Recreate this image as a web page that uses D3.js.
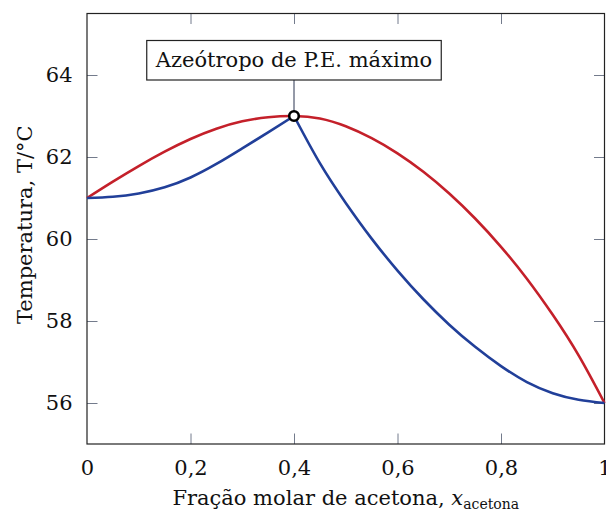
<!DOCTYPE html>
<html><head><meta charset="utf-8">
<script src="https://cdn.jsdelivr.net/npm/d3@7"></script>
<style>html,body{margin:0;padding:0;background:#fff;}</style>
</head><body>
<svg id="chart" width="606" height="513"></svg>
<script>
const xFrac = [0,0.05,0.1,0.15,0.2,0.25,0.3,0.35,0.4,0.45,0.5,0.55,0.6,0.65,0.7,0.75,0.8,0.85,0.9,0.95,1.0];
const dewT = [61.0,61.4,61.78,62.13,62.44,62.69,62.87,62.97,63.0,62.94,62.75,62.46,62.09,61.64,61.11,60.5,59.81,59.03,58.15,57.16,56.0];
const bubbleT = [61.0,61.03,61.11,61.26,61.5,61.83,62.21,62.6,63.0,61.85,60.88,60.01,59.23,58.53,57.91,57.37,56.9,56.51,56.24,56.08,56.0];
const xTicks = [0,0.2,0.4,0.6,0.8,1];
const yTicks = [56,58,60,62,64];
const azeotrope = {x:0.4, T:63};
const annotationText = "Azeótropo de P.E. máximo";

const svg = d3.select("#chart");
const L=87, R=604.5, T=13.5, B=444;
const x = d3.scaleLinear().domain([0,1]).range([L,R]);
const y = d3.scaleLinear().domain([55,65.5]).range([B,T]);
const font = "'DejaVu Serif', serif";
const fs = 21;
const tickColor = "#737b8c";
const tl = 10.5;

const fmt = d => d===0?"0":(d===1?"1":d3.format(".1f")(d).replace(".",","));

const gB = svg.append("g").attr("transform",`translate(0,${B})`)
  .call(d3.axisBottom(x).tickValues(xTicks).tickSizeInner(-tl).tickSizeOuter(0).tickPadding(13+tl-7).tickFormat(fmt));
const gT = svg.append("g").attr("transform",`translate(0,${T})`)
  .call(d3.axisTop(x).tickValues(xTicks).tickSizeInner(-tl).tickSizeOuter(0).tickFormat(""));
const gL = svg.append("g").attr("transform",`translate(${L},0)`)
  .call(d3.axisLeft(y).tickValues(yTicks).tickSizeInner(-tl).tickSizeOuter(0).tickPadding(11+tl-7).tickFormat(d3.format("d")));
const gR = svg.append("g").attr("transform",`translate(${R},0)`)
  .call(d3.axisRight(y).tickValues(yTicks).tickSizeInner(-tl).tickSizeOuter(0).tickFormat(""));
[gB,gT,gL,gR].forEach(g=>{
  g.select(".domain").remove();
  g.selectAll(".tick line").attr("stroke",tickColor).attr("stroke-width",1);
  g.selectAll("text").attr("font-family",font).attr("font-size",fs).attr("fill","#111");
});
[gB,gT].forEach(g=>g.selectAll(".tick").filter(d=>d===0||d===1).select("line").remove());

svg.append("rect").attr("x",L).attr("y",T).attr("width",R-L).attr("height",B-T)
  .attr("fill","none").attr("stroke","#222").attr("stroke-width",1.2);

const pts = (arr) => xFrac.map((v,i)=>[v,arr[i]]);
const line = d3.line().x(d=>x(d[0])).y(d=>y(d[1])).curve(d3.curveNatural);
const dew = pts(dewT);
const bub = pts(bubbleT);
const iA = xFrac.indexOf(azeotrope.x);
svg.append("path").attr("d",line(dew)).attr("fill","none").attr("stroke","#c4202a").attr("stroke-width",2.6);
svg.append("path").attr("d",line(bub.slice(0,iA+1))).attr("fill","none").attr("stroke","#213f99").attr("stroke-width",2.6);
svg.append("path").attr("d",line(bub.slice(iA))).attr("fill","none").attr("stroke","#213f99").attr("stroke-width",2.6);

const ax = x(azeotrope.x), ay = y(azeotrope.T);
const boxTop = 40.5, boxBot = 80;
svg.append("line").attr("x1",ax).attr("x2",ax).attr("y1",boxBot).attr("y2",ay).attr("stroke","#2a3550").attr("stroke-width",1);
const box = svg.append("rect");
const txt = svg.append("text").attr("x",ax).attr("y",67).attr("text-anchor","middle")
  .attr("font-family",font).attr("font-size",fs).attr("fill","#111").text(annotationText);
const tw = txt.node().getComputedTextLength();
box.attr("x",ax-tw/2-9).attr("y",boxTop).attr("width",tw+18).attr("height",boxBot-boxTop)
  .attr("fill","#fff").attr("stroke","#222").attr("stroke-width",1.2);
svg.append("circle").attr("cx",ax).attr("cy",ay).attr("r",4.8).attr("fill","#fff").attr("stroke","#000").attr("stroke-width",2.6);

const xl = svg.append("text").attr("x",(L+R)/2).attr("y",505).attr("text-anchor","middle")
  .attr("font-family",font).attr("font-size",fs).attr("fill","#111");
xl.append("tspan").text("Fração molar de acetona, ");
xl.append("tspan").attr("font-style","italic").text("x");
xl.append("tspan").attr("font-size",14).attr("dy",4).text("acetona");
svg.append("text").attr("transform",`translate(32,${(T+B)/2-4}) rotate(-90)`).attr("text-anchor","middle")
  .attr("font-family",font).attr("font-size",fs).attr("fill","#111").text("Temperatura, T/°C");
</script>
</body></html>
